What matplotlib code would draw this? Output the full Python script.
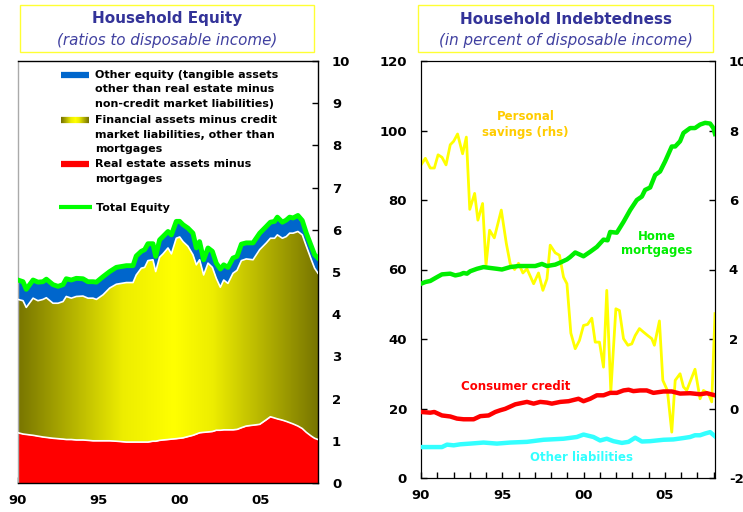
import numpy as np
import matplotlib
matplotlib.use("Agg")
import matplotlib.pyplot as plt
from matplotlib.patches import Rectangle
from matplotlib.colors import LinearSegmentedColormap

# ---------------- Left panel data (ratios to disposable income) ----------------
eq_years = [1990.00, 1990.31, 1990.51, 1990.93, 1991.23, 1991.54, 1991.75, 1992.16, 1992.47, 1992.78,
            1992.98, 1993.29, 1993.60, 1994.01, 1994.32, 1994.63, 1994.84, 1995.25, 1995.66, 1996.07,
            1996.69, 1997.10, 1997.30, 1997.61, 1997.82, 1998.02, 1998.33, 1998.50, 1998.74, 1998.95,
            1999.26, 1999.47, 1999.77, 1999.98, 2000.19, 2000.49, 2000.80, 2001.01, 2001.21, 2001.46,
            2001.73, 2002.00, 2002.24, 2002.49, 2002.70, 2002.96, 2003.27, 2003.52, 2003.79, 2004.09,
            2004.51, 2004.92, 2005.33, 2005.58, 2005.84, 2006.01, 2006.32, 2006.56, 2006.77, 2006.98,
            2007.28, 2007.55, 2007.80, 2008.11, 2008.31, 2008.52]
total_equity = [4.81, 4.77, 4.59, 4.81, 4.76, 4.77, 4.83, 4.70, 4.66, 4.70,
                4.84, 4.81, 4.85, 4.84, 4.77, 4.77, 4.76, 4.89, 5.01, 5.11,
                5.15, 5.15, 5.38, 5.49, 5.53, 5.67, 5.67, 5.37, 5.76, 5.84,
                5.96, 5.88, 6.20, 6.20, 6.12, 6.04, 5.92, 5.57, 5.72, 5.29,
                5.57, 5.49, 5.21, 5.07, 5.17, 5.11, 5.33, 5.37, 5.66, 5.69,
                5.69, 5.92, 6.08, 6.18, 6.20, 6.30, 6.18, 6.23, 6.30, 6.28,
                6.34, 6.22, 5.92, 5.61, 5.41, 5.33]
# real estate + financial assets (top of the yellow area)
real_plus_financial = [4.35, 4.32, 4.16, 4.38, 4.32, 4.35, 4.39, 4.26, 4.26, 4.30,
                       4.42, 4.38, 4.42, 4.43, 4.38, 4.38, 4.35, 4.46, 4.62, 4.71,
                       4.75, 4.75, 4.93, 5.09, 5.11, 5.27, 5.29, 5.01, 5.35, 5.43,
                       5.57, 5.43, 5.80, 5.83, 5.72, 5.61, 5.41, 5.17, 5.29, 4.93,
                       5.21, 5.11, 4.85, 4.64, 4.81, 4.73, 4.97, 5.04, 5.27, 5.31,
                       5.29, 5.53, 5.69, 5.80, 5.80, 5.88, 5.80, 5.84, 5.92, 5.92,
                       5.96, 5.88, 5.61, 5.29, 5.09, 4.97]
real_estate = [1.19, 1.16, 1.15, 1.13, 1.11, 1.09, 1.08, 1.06, 1.05, 1.04,
               1.03, 1.03, 1.02, 1.02, 1.01, 1.00, 1.00, 1.00, 1.00, 0.99,
               0.97, 0.97, 0.97, 0.97, 0.97, 0.97, 0.99, 0.99, 1.01, 1.02,
               1.03, 1.04, 1.05, 1.06, 1.07, 1.10, 1.13, 1.16, 1.19, 1.20,
               1.21, 1.22, 1.25, 1.25, 1.26, 1.26, 1.26, 1.27, 1.31, 1.35,
               1.37, 1.39, 1.50, 1.57, 1.54, 1.52, 1.49, 1.46, 1.43, 1.40,
               1.35, 1.29, 1.20, 1.11, 1.06, 1.03]

# ---------------- Right panel data (percent of disposable income) ----------------
mort_years = [1990.00, 1990.27, 1990.57, 1990.98, 1991.29, 1991.80, 1992.11, 1992.42, 1992.62, 1992.83,
              1993.03, 1993.44, 1993.85, 1994.16, 1994.67, 1994.98, 1995.49, 1996.00, 1996.52, 1997.03,
              1997.44, 1997.75, 1998.26, 1998.57, 1998.98, 1999.18, 1999.49, 2000.00, 2000.41, 2000.82,
              2001.23, 2001.48, 2001.64, 2002.05, 2002.46, 2002.87, 2003.28, 2003.59, 2003.79, 2004.10,
              2004.41, 2004.71, 2005.02, 2005.43, 2005.64, 2005.94, 2006.15, 2006.56, 2006.86, 2007.17,
              2007.48, 2007.79, 2007.99, 2008.09]
home_mortgages = [55.9, 56.4, 56.7, 57.8, 58.6, 58.8, 58.3, 58.6, 59.0, 58.8,
                  59.5, 60.2, 60.7, 60.5, 60.2, 60.0, 60.7, 61.0, 61.0, 61.0,
                  61.6, 61.0, 61.4, 62.0, 62.9, 63.6, 64.9, 63.8, 65.1, 66.5,
                  68.6, 68.4, 70.8, 70.6, 73.7, 77.1, 80.0, 81.0, 82.9, 83.6,
                  87.2, 88.2, 91.1, 95.4, 95.4, 96.9, 99.3, 100.7, 100.7, 101.7,
                  102.2, 102.0, 100.7, 99.0]

# personal savings rate, right-hand scale (percent)
sav_years = [1990.00, 1990.27, 1990.57, 1990.82, 1991.05, 1991.29, 1991.54, 1991.80, 1992.01, 1992.25,
             1992.56, 1992.79, 1993.00, 1993.30, 1993.50, 1993.79, 1994.00, 1994.22, 1994.51, 1994.94,
             1995.25, 1995.49, 1995.76, 1996.00, 1996.27, 1996.52, 1996.93, 1997.23, 1997.50, 1997.75,
             1997.95, 1998.26, 1998.52, 1998.77, 1998.98, 1999.22, 1999.49, 1999.75, 2000.00, 2000.25,
             2000.51, 2000.72, 2000.98, 2001.23, 2001.43, 2001.68, 2001.99, 2002.21, 2002.46, 2002.73,
             2002.97, 2003.18, 2003.44, 2003.69, 2003.95, 2004.20, 2004.36, 2004.67, 2004.88, 2005.16,
             2005.43, 2005.64, 2005.94, 2006.15, 2006.35, 2006.86, 2007.17, 2007.38, 2007.68, 2007.89,
             2008.09]
personal_savings = [7.01, 7.20, 6.92, 6.92, 7.30, 7.23, 7.01, 7.59, 7.69, 7.90,
                    7.33, 7.81, 5.73, 6.19, 5.42, 5.90, 4.12, 5.13, 4.91, 5.71,
                    4.75, 4.16, 4.00, 4.18, 3.90, 4.02, 3.59, 3.90, 3.40, 3.73,
                    4.70, 4.48, 4.41, 3.78, 3.59, 2.17, 1.72, 1.96, 2.39, 2.42,
                    2.60, 1.91, 1.91, 1.19, 3.40, 0.49, 2.87, 2.82, 2.01, 1.82,
                    1.86, 2.10, 2.30, 2.20, 2.10, 2.01, 1.82, 2.52, 0.81, 0.52,
                    -0.68, 0.81, 1.00, 0.62, 0.52, 1.13, 0.28, 0.52, 0.43, 0.19,
                    2.73]

cc_years = [1990.00, 1990.57, 1990.82, 1991.29, 1991.80, 1992.21, 1992.62, 1993.24, 1993.65, 1994.16,
            1994.57, 1994.88, 1995.18, 1995.80, 1996.52, 1996.93, 1997.34, 1997.75, 1998.05, 1998.57,
            1999.08, 1999.69, 2000.00, 2000.41, 2000.82, 2001.23, 2001.64, 2002.05, 2002.46, 2002.77,
            2003.07, 2003.48, 2003.89, 2004.30, 2004.92, 2005.43, 2005.94, 2006.56, 2007.17, 2007.58,
            2008.09]
consumer_credit = [19.0, 18.8, 19.0, 18.0, 17.7, 17.1, 16.9, 16.9, 17.8, 18.0,
                   19.0, 19.5, 19.9, 21.2, 21.9, 21.4, 21.9, 21.7, 21.4, 21.9,
                   22.1, 22.8, 22.1, 22.8, 23.8, 23.8, 24.5, 24.5, 25.2, 25.4,
                   25.0, 25.2, 25.2, 24.5, 24.9, 24.9, 24.3, 24.4, 24.1, 24.4,
                   23.8]

ol_years = [1990.00, 1991.29, 1991.60, 1992.01, 1992.42, 1993.03, 1993.85, 1994.67, 1995.49, 1996.52,
            1997.54, 1998.77, 1999.59, 2000.00, 2000.61, 2001.02, 2001.43, 2001.84, 2002.36, 2002.77,
            2003.18, 2003.59, 2004.10, 2004.51, 2004.92, 2005.53, 2006.15, 2006.56, 2006.86, 2007.17,
            2007.48, 2007.79, 2008.09]
other_liabilities = [8.9, 8.9, 9.6, 9.4, 9.7, 9.9, 10.2, 9.9, 10.2, 10.4,
                     11.0, 11.3, 11.8, 12.5, 11.8, 10.8, 11.3, 10.6, 10.1, 10.4,
                     11.6, 10.5, 10.6, 10.8, 11.0, 11.1, 11.5, 11.8, 12.3, 12.3,
                     12.8, 13.2, 12.0]

tick_years = [1990, 1995, 2000, 2005]
tick_labels = ["90", "95", "00", "05"]

# ---------------- Styling ----------------
plt.rcParams['font.family'] = ['DejaVu Sans']
plt.rcParams['axes.unicode_minus'] = False
TITLE_BLUE = '#333399'
OLIVE = (0.47, 0.46, 0.0)

fig = plt.figure(figsize=(7.43, 5.12), dpi=100)
W, H = 743, 512

def fig_rect(x0, y0, x1, y1):
    return [x0 / W, 1 - y1 / H, (x1 - x0) / W, (y1 - y0) / H]

axL = fig.add_axes(fig_rect(18, 61, 318, 483))
axR = fig.add_axes(fig_rect(421, 61, 715, 478))

# Title boxes
for (x0, x1, title, sub) in [(20, 314, "Household Equity", "(ratios to disposable income)"),
                              (418, 713, "Household Indebtedness", "(in percent of disposable income)")]:
    fig.patches.append(Rectangle((x0 / W, 1 - 52 / H), (x1 - x0) / W, 47 / H,
                                 transform=fig.transFigure, fill=False, edgecolor='#ffff33', lw=1.0))
    xc = (x0 + x1) / 2 / W
    fig.text(xc, 1 - 19 / H, title, ha='center', va='center', fontsize=11, fontweight='bold',
             color=TITLE_BLUE)
    fig.text(xc, 1 - 40 / H, sub, ha='center', va='center', fontsize=10.9, style='italic',
             color='#4040a0')

tick_kw = dict(direction='in', length=4, width=1, colors='black', labelsize=9.5)

# ---------------- Left panel ----------------
x = np.array(eq_years)
re = np.array(real_estate)
rf = np.array(real_plus_financial)
te = np.array(total_equity)

axL.fill_between(x, 0, re, color='red', lw=0, zorder=2)
poly = axL.fill_between(x, re, rf, facecolor='none', lw=0, zorder=2)
axL.fill_between(x, rf, te, color='#0066cc', lw=0, zorder=2)

grad_cmap = LinearSegmentedColormap.from_list(
    'olive_yellow', [(0.0, OLIVE), (0.35, (0.93, 0.93, 0.0)), (0.52, (1.0, 1.0, 0.0)),
                     (0.65, (0.93, 0.93, 0.0)), (1.0, OLIVE)])
grad = np.linspace(0, 1, 256).reshape(1, -1)
img = axL.imshow(grad, extent=[1990, 2008.52, 0, 10], aspect='auto', cmap=grad_cmap,
                 origin='lower', zorder=2, interpolation='bilinear')
img.set_clip_path(poly.get_paths()[0], axL.transData)

axL.plot(x, re, color='white', lw=1.2, zorder=3)
axL.plot(x, rf, color='white', lw=1.2, zorder=3)
axL.plot(x, te, color='#00ff00', lw=3.5, zorder=4, solid_joinstyle='round')

axL.set_xlim(1990, 2008.52)
axL.set_ylim(0, 10)
axL.yaxis.tick_right()
axL.set_yticks(range(0, 11))
axL.set_xticks(tick_years)
axL.set_xticklabels(tick_labels)
axL.set_xticks(range(1990, 2009), minor=True)
axL.tick_params(axis='both', which='both', **tick_kw)
axL.tick_params(axis='y', pad=10)
axL.tick_params(axis='x', pad=8)
for lab in axL.get_xticklabels() + axL.get_yticklabels():
    lab.set_fontweight('bold')
for s in axL.spines.values():
    s.set_linewidth(1.0)
axL.spines['left'].set_color('#aaaaaa')

# Manual legend (pixel coordinates)
leg_fs = 8.0
legend_items = [
    (75, '#0066cc', ["Other equity (tangible assets", "other than real estate minus",
                     "non-credit market liabilities)"]),
    (120, None, ["Financial assets minus credit", "market liabilities, other than", "mortgages"]),
    (164, 'red', ["Real estate assets minus", "mortgages"]),
]
for yp, col, lines in legend_items:
    if col is not None:
        fig.add_artist(plt.Line2D([61 / W, 89 / W], [1 - yp / H] * 2, color=col, lw=4.5,
                                  solid_capstyle='butt', transform=fig.transFigure))
    else:
        xs = np.linspace(61, 89, 29)
        for i in range(len(xs) - 1):
            t = i / (len(xs) - 2)
            fig.add_artist(plt.Line2D([xs[i] / W, xs[i + 1] / W], [1 - yp / H] * 2,
                                      color=grad_cmap(t), lw=4.5, solid_capstyle='butt',
                                      transform=fig.transFigure))
    for k, line in enumerate(lines):
        fig.text(95 / W, 1 - (yp + k * 14.5) / H, line, ha='left', va='center',
                 fontsize=leg_fs, fontweight='bold', color='black')
fig.add_artist(plt.Line2D([59 / W, 92 / W], [1 - 207 / H] * 2, color='#00ff00', lw=3,
                          solid_capstyle='butt', transform=fig.transFigure))
fig.text(96 / W, 1 - 208 / H, "Total Equity", ha='left', va='center', fontsize=leg_fs,
         fontweight='bold', color='black')

# ---------------- Right panel ----------------
axR2 = axR.twinx()
axR.plot(mort_years, home_mortgages, color='#00ee00', lw=3.2, zorder=4)
axR.plot(cc_years, consumer_credit, color='#ff0000', lw=3.2, zorder=4)
axR.plot(ol_years, other_liabilities, color='#33ffff', lw=3.2, zorder=4)
axR2.plot(sav_years, personal_savings, color='#ffff00', lw=2.0, zorder=3)

axR.set_xlim(1990, 2008.09)
axR.set_ylim(0, 120)
axR2.set_ylim(-2, 10)
axR.set_yticks(range(0, 121, 20))
axR2.set_yticks(range(-2, 11, 2))
axR.set_xticks(tick_years)
axR.set_xticklabels(tick_labels)
axR.set_xticks(range(1990, 2009), minor=True)
axR.tick_params(axis='both', which='both', **tick_kw)
axR.tick_params(axis='y', pad=10)
axR.tick_params(axis='x', pad=8)
axR2.tick_params(axis='y', **tick_kw)
axR2.tick_params(axis='y', pad=10)
for lab in axR.get_xticklabels() + axR.get_yticklabels() + axR2.get_yticklabels():
    lab.set_fontweight('bold')

axR.set_zorder(axR2.get_zorder() + 1)
axR.patch.set_visible(False)

axR.text(1996.42, 101.6, "Personal\nsavings (rhs)", ha='center', va='center', fontsize=8.5,
         fontweight='bold', color='#ffcc00', linespacing=1.3)
axR.text(2004.5, 67.5, "Home\nmortgages", ha='center', va='center', fontsize=8.5,
         fontweight='bold', color='#00ee00', linespacing=1.05)
axR.text(1995.8, 26.3, "Consumer credit", ha='center', va='center', fontsize=8.5,
         fontweight='bold', color='#ff0000')
axR.text(1999.9, 5.8, "Other liabilities", ha='center', va='center', fontsize=8.5,
         fontweight='bold', color='#33ffff')

fig.savefig("out.png", dpi=100)
